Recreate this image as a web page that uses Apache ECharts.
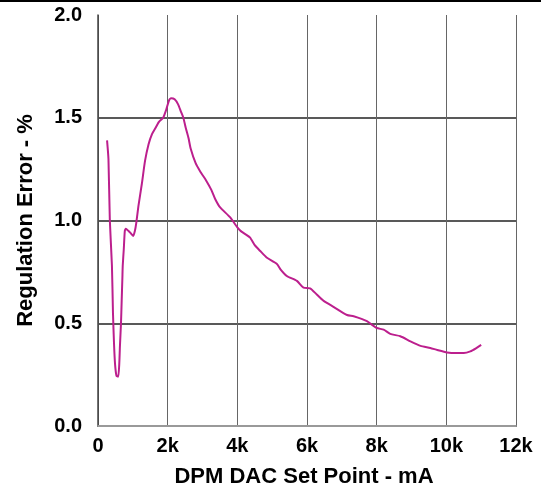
<!DOCTYPE html>
<html>
<head>
<meta charset="utf-8">
<script src="https://cdn.jsdelivr.net/npm/echarts@6/dist/echarts.min.js"></script>
<style>
html,body{margin:0;padding:0;background:#fff;}
#chart{width:541px;height:493px;}
</style>
</head>
<body>
<div id="chart"></div>
<script>
// DPM DAC set point (mA)
var setPointMA = [260,300,340,400,430,460,490,530,580,610,630,660,680,700,710,740,770,800,870,930,1010,1060,1100,1160,1260,1350,1450,1550,1650,1750,1870,1960,2040,2100,2200,2300,2380,2450,2520,2600,2660,2800,2930,3120,3250,3360,3500,3790,4000,4120,4360,4500,4650,4840,5130,5250,5420,5710,5900,6090,6280,6470,6760,7150,7340,7720,8000,8200,8390,8680,8970,9260,9540,9740,10020,10300,10500,10690,10850,11000];
// Regulation error (%)
var regError = [1.39,1.30,1.00,0.78,0.55,0.40,0.30,0.245,0.24,0.30,0.39,0.50,0.61,0.72,0.78,0.86,0.95,0.96,0.95,0.94,0.925,0.95,0.99,1.07,1.18,1.29,1.37,1.42,1.45,1.48,1.50,1.54,1.585,1.595,1.59,1.565,1.53,1.50,1.45,1.40,1.35,1.28,1.24,1.19,1.15,1.106,1.065,1.016,0.967,0.946,0.918,0.88,0.853,0.82,0.79,0.76,0.73,0.706,0.673,0.67,0.64,0.61,0.58,0.54,0.534,0.51,0.477,0.469,0.448,0.437,0.412,0.39,0.38,0.37,0.358,0.355,0.355,0.363,0.378,0.395];
var xTicks = {min:0, max:12000, step:2000};
var yTicks = {min:0, max:2, step:0.5};

var seriesData = setPointMA.map(function(x,i){return [x, regError[i]];});

var font = '"Liberation Sans", Arial, sans-serif';
var chart = echarts.init(document.getElementById('chart'));
chart.setOption({
  animation:false,
  backgroundColor:'#fff',
  grid:{left:98,right:25,top:15,bottom:66},
  graphic:[{type:'line',shape:{x1:0,y1:1,x2:541,y2:1},style:{stroke:'#000',lineWidth:2}}],
  xAxis:[{
    type:'value', min:xTicks.min, max:xTicks.max, interval:xTicks.step,
    name:'DPM DAC Set Point - mA', nameLocation:'middle', nameGap:40,
    nameTextStyle:{fontFamily:font,fontWeight:'bold',fontSize:22,color:'#000',padding:[0,6,0,0]},
    axisLine:{show:true,onZero:false,lineStyle:{color:'#222',width:2}},
    axisTick:{show:false},
    axisLabel:{margin:10,fontFamily:font,fontWeight:'bold',fontSize:20,color:'#000',
      formatter:function(v){return v===0?'0':(v/1000)+'k';}},
    splitLine:{show:true,lineStyle:{color:'#666',width:1}}
  },{
    type:'value', position:'top', min:xTicks.min, max:xTicks.max, interval:xTicks.step,
    axisLine:{show:true,lineStyle:{color:'#999',width:2}},
    axisTick:{show:false}, axisLabel:{show:false}, splitLine:{show:false}
  }],
  yAxis:{
    type:'value', min:yTicks.min, max:yTicks.max, interval:yTicks.step,
    name:'Regulation Error - %', nameLocation:'middle', nameGap:61, nameRotate:90,
    nameTextStyle:{fontFamily:font,fontWeight:'bold',fontSize:22,color:'#000'},
    axisLine:{show:true,onZero:false,lineStyle:{color:'#444',width:1.5}},
    axisTick:{show:false},
    axisLabel:{margin:16,fontFamily:font,fontWeight:'bold',fontSize:20,color:'#000',
      formatter:function(v){return v.toFixed(1);}},
    splitLine:{show:true,showMaxLine:false,lineStyle:{color:'#222',width:1.5}}
  },
  series:[{
    type:'line', xAxisIndex:0, data:seriesData, showSymbol:false, smooth:0.2,
    lineStyle:{color:'#BC1F8D',width:2}
  }]
});
</script>
</body>
</html>
